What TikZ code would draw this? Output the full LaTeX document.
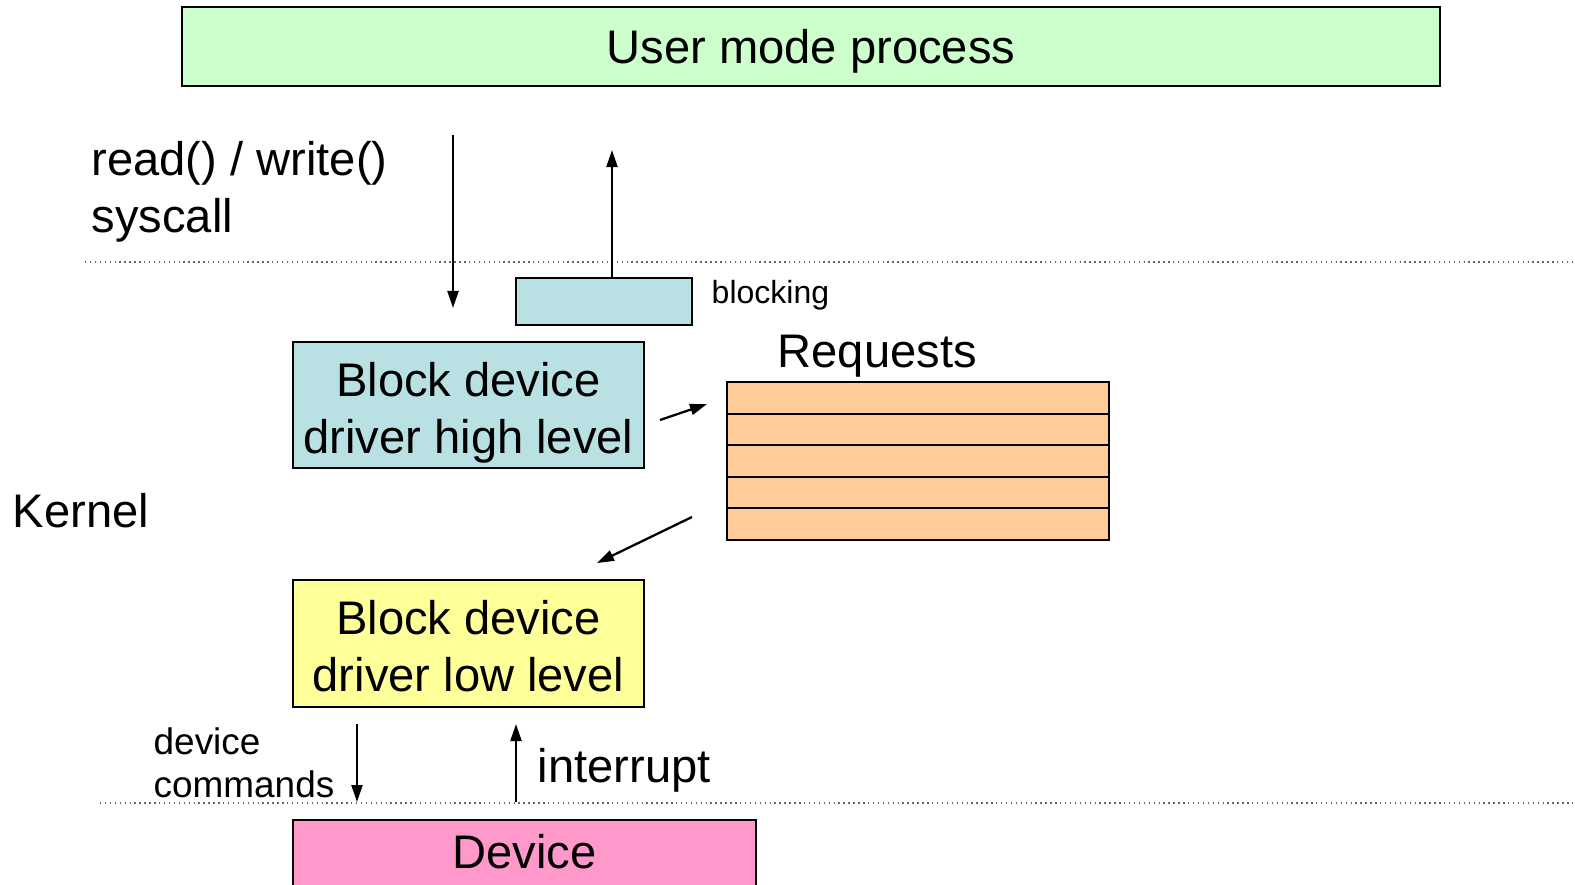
\documentclass[tikz,border=0pt]{standalone}
\usepackage{fontspec}
\setmainfont{Liberation Sans}
\usetikzlibrary{arrows.meta, positioning}
\newcommand{\txtbig}{\fontsize{13.4pt}{16.1pt}\selectfont}
\newcommand{\txtmid}{\fontsize{10.5pt}{12.2pt}\selectfont}
\newcommand{\txtsmall}{\fontsize{9.1pt}{11pt}\selectfont}
\definecolor{usergreen}{RGB}{204,255,204}
\definecolor{driverblue}{RGB}{185,224,227}
\definecolor{queueorange}{RGB}{255,204,153}
\definecolor{loweryellow}{RGB}{255,255,153}
\definecolor{devicepink}{RGB}{255,153,204}

\begin{document}
\begin{tikzpicture}[
    x=0.01cm, y=-0.01cm,
    box/.style={rectangle, draw, line width=0.6pt, inner sep=0pt, align=center, font=\txtbig},
    greenbox/.style={box, fill=usergreen},
    bluebox/.style={box, fill=driverblue},
    yellowbox/.style={box, fill=loweryellow},
    pinkbox/.style={box, fill=devicepink},
    twoline/.style={text height=0.96cm, text depth=0pt},
    slot/.style={box, fill=queueorange, minimum width=3.82cm, minimum height=0.316cm},
    lbl/.style={inner sep=0pt, align=left, font=\txtbig},
    arrow/.style={-{Triangle[length=1.7mm, width=1.1mm]}, line width=0.65pt},
    sepline/.style={densely dotted, line width=0.4pt, gray!80!black}
]
\useasboundingbox (0,0) rectangle (1575,884);

% User space
\node[greenbox, minimum width=12.58cm, minimum height=0.79cm, text depth=0pt] (user) at (811,46.5) {User mode process};
\node[lbl, anchor=base west] (syscall) at (91,232) {read() / write()\\syscall};

% Kernel boundary
\coordinate (ktopL) at (85,262);
\coordinate (ktopR) at (1575,262);
\draw[sepline] (ktopL) -- (ktopR);

% Blocked processes
\node[bluebox, minimum width=1.76cm, minimum height=0.47cm] (blockq) at (604,301.5) {};
\node[inner sep=0pt, font=\txtsmall, anchor=base west] (blocking) at (711,303) {blocking};

% Drivers
\node[bluebox, twoline, minimum width=3.51cm, minimum height=1.26cm] (highlvl) at (468.5,405) {Block device\\driver high level};
\node[yellowbox, twoline, minimum width=3.51cm, minimum height=1.27cm] (lowlvl) at (468.5,643.5) {Block device\\driver low level};
\node[lbl, anchor=base west] (kernel) at (12,527) {Kernel};

% Request queue
\foreach \i in {0,...,4}
    \node[slot] (slot\i) at (918,{397.8+31.6*\i}) {};
\node[lbl, anchor=base west] (requests) at (777,367) {Requests};

% Device boundary
\coordinate (kbotL) at (100,803);
\coordinate (kbotR) at (1575,803);
\draw[sepline] (kbotL) -- (kbotR);
\node[pinkbox, minimum width=4.63cm, minimum height=0.9cm, text height=0.34cm, text depth=0.28cm] (device) at (524.5,865) {Device};

% Labels
\node[inner sep=0pt, align=left, font=\txtmid, anchor=base west] (devcmd) at (153,797) {device\\commands};
\node[lbl, anchor=base west] (irq) at (537,782) {interrupt};

% Arrows
\coordinate (callA) at (453,135);
\coordinate (callB) at (453,308);
\coordinate (wake) at (612,150);
\coordinate (enqA) at (660,420);
\coordinate (enqB) at (707,404);
\coordinate (deqA) at (692,517);
\coordinate (deqB) at (597,563);
\coordinate (cmdA) at (357,724);
\coordinate (cmdB) at (357,802);
\coordinate (irqA) at (516,802);
\coordinate (irqB) at (516,724);
\draw[arrow] (callA) -- (callB);
\draw[arrow] (blockq.north -| wake) -- (wake);
\draw[arrow] (enqA) -- (enqB);
\draw[arrow] (deqA) -- (deqB);
\draw[arrow] (cmdA) -- (cmdB);
\draw[arrow] (irqA) -- (irqB);

\end{tikzpicture}
\end{document}
